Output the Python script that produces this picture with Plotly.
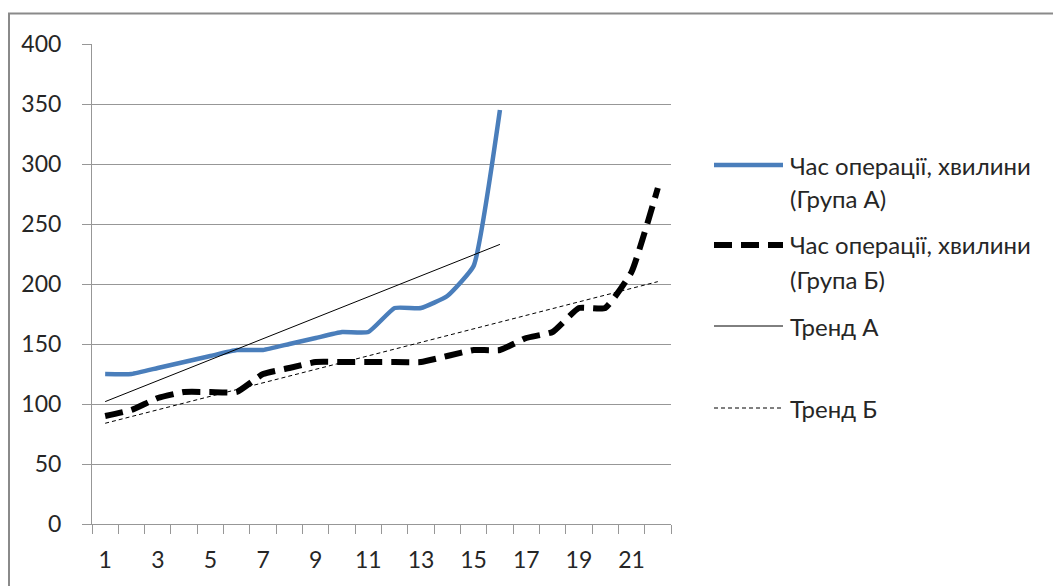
import numpy as np
import plotly.graph_objects as go

# Operation time, minutes, per patient (sorted), two groups
group_a_minutes = [125, 125, 130, 135, 140, 145, 145, 150, 155, 160, 160, 180, 180, 190, 215, 345]
group_b_minutes = [90, 95, 105, 110, 110, 110, 125, 130, 135, 135, 135, 135, 135, 140, 145, 145,
                   155, 160, 180, 180, 210, 280]
patients_a = list(range(1, len(group_a_minutes) + 1))
patients_b = list(range(1, len(group_b_minutes) + 1))

x_tick_values = [1, 3, 5, 7, 9, 11, 13, 15, 17, 19, 21]
x_tick_labels = [str(v) for v in x_tick_values]
y_tick_values = [0, 50, 100, 150, 200, 250, 300, 350, 400]

name_a = "Час операції, хвилини (Група А)"
name_b = "Час операції, хвилини (Група Б)"
name_trend_a = "Тренд А"
name_trend_b = "Тренд Б"

# Linear (least squares) trend lines over each group
slope_a, icpt_a = np.polyfit(patients_a, group_a_minutes, 1)
slope_b, icpt_b = np.polyfit(patients_b, group_b_minutes, 1)
trend_a_x = [patients_a[0], patients_a[-1]]
trend_b_x = [patients_b[0], patients_b[-1]]
trend_a_y = [slope_a * x + icpt_a for x in trend_a_x]
trend_b_y = [slope_b * x + icpt_b for x in trend_b_x]

BLUE = "#4A7EBB"
TEXT = "#262626"
GRID = "#979797"
FONT = "Lato"
FS = 23
FS_LEGEND = 24

W, H = 1053, 586
ML, MR, MT, MB = 92, 382, 44, 62
PW, PH = W - ML - MR, H - MT - MB


def px_x(px):
    return (px - ML) / PW


def px_y(py):
    return (H - MB - py) / PH


style_a = dict(color=BLUE, width=4.5)
style_b = dict(color="black", width=6, dash="18px,9px")
style_ta = dict(color="black", width=1)
style_tb = dict(color="black", width=1, dash="4px,3px")

fig = go.Figure()
fig.add_trace(go.Scatter(x=patients_a, y=group_a_minutes, mode="lines", name=name_a,
                         line=dict(**style_a, shape="spline", smoothing=0.4), showlegend=False))
fig.add_trace(go.Scatter(x=patients_b, y=group_b_minutes, mode="lines", name=name_b,
                         line=dict(**style_b, shape="spline", smoothing=0.4), showlegend=False))
fig.add_trace(go.Scatter(x=trend_a_x, y=trend_a_y, mode="lines", name=name_trend_a,
                         line=style_ta, showlegend=False))
fig.add_trace(go.Scatter(x=trend_b_x, y=trend_b_y, mode="lines", name=name_trend_b,
                         line=style_tb, showlegend=False))

shapes = []
annotations = []

# Outer chart frame
shapes.append(dict(type="rect", xref="paper", yref="paper",
                   x0=px_x(9), x1=px_x(1070), y0=px_y(600), y1=px_y(13.5),
                   line=dict(color="#8a8a8a", width=2), fillcolor="rgba(0,0,0,0)", layer="below"))

# Legend: sample line + label lines
legend_rows = [
    (style_a, 165, ["Час операції, хвилини", "(Група А)"]),
    (style_b, 245, ["Час операції, хвилини", "(Група Б)"]),
    (style_ta, 326, [name_trend_a]),
    (style_tb, 408, [name_trend_b]),
]
for style, y, lines in legend_rows:
    shapes.append(dict(type="line", xref="paper", yref="paper",
                       x0=px_x(714), x1=px_x(783), y0=px_y(y), y1=px_y(y), line=style))
    for i, txt in enumerate(lines):
        annotations.append(dict(text=txt, xref="paper", yref="paper", x=px_x(788), y=px_y(y + i * 34),
                                xanchor="left", yanchor="middle", showarrow=False,
                                font=dict(family=FONT, size=FS_LEGEND, color=TEXT)))

fig.update_layout(
    width=W, height=H,
    margin=dict(l=ML, r=MR, t=MT, b=MB),
    paper_bgcolor="white", plot_bgcolor="white",
    font=dict(family=FONT, size=FS, color=TEXT),
    shapes=shapes, annotations=annotations,
    showlegend=False,
)
fig.update_xaxes(
    range=[0.5, 22.5], tickmode="array", tickvals=x_tick_values, ticktext=x_tick_labels,
    ticks="", showgrid=False, zeroline=False,
    showline=True, linecolor=GRID, linewidth=1,
    ticklabelstandoff=15,
    minor=dict(tickmode="linear", tick0=0.5, dtick=1, ticks="outside", ticklen=9,
               tickcolor=GRID, tickwidth=1, showgrid=False),
)
fig.update_yaxes(
    range=[0, 400], tickmode="array", tickvals=y_tick_values,
    ticks="outside", ticklen=9, tickcolor=GRID, tickwidth=1,
    showgrid=True, gridcolor=GRID, gridwidth=1, zeroline=False,
    showline=True, linecolor=GRID, linewidth=1,
    ticklabelstandoff=16,
)

fig.write_html("out.html")
